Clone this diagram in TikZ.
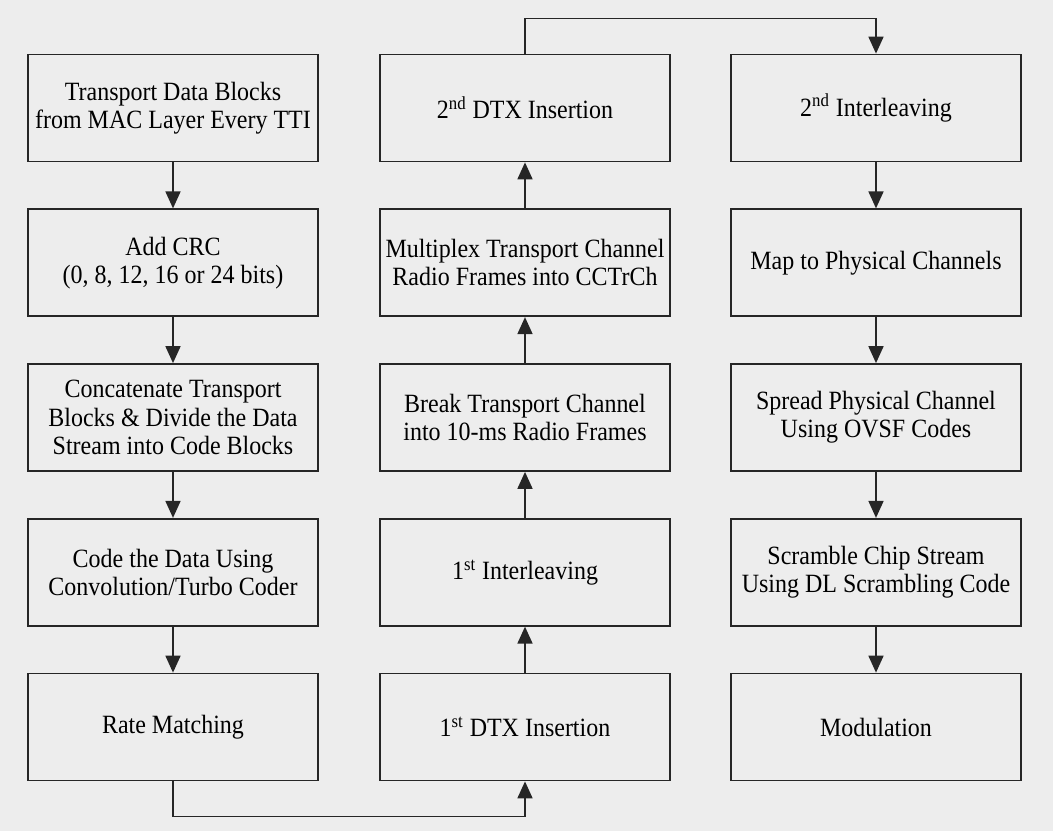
\documentclass[tikz,border=0pt]{standalone}
\usepackage{fontspec}
\setmainfont[FakeStretch=0.91]{Liberation Serif}
\usetikzlibrary{arrows.meta,positioning}

\begin{document}
\begin{tikzpicture}[
  block/.style={draw=black!85, line width=1pt, minimum width=5.8cm, minimum height=2.14cm, inner xsep=0pt, align=center, font=\fontsize{15}{16}\selectfont},
  flow/.style={draw=black!85, line width=1pt, -{Triangle[width=0.3cm,length=0.34cm]}},
  node distance=0.92cm
]
\fill[black!7] (0,0) rectangle (21.06,16.62);
\useasboundingbox (0,0) rectangle (21.06,16.62);

\node[block] (tdb) at (3.46,14.46) {Transport Data Blocks\\from MAC Layer Every TTI};
\node[block, below=of tdb] (crc) {Add CRC\\(0, 8, 12, 16 or 24 bits)};
\node[block, below=of crc] (cat) {Concatenate Transport\\Blocks \& Divide the Data\\Stream into Code Blocks};
\node[block, below=of cat] (code) {Code the Data Using\\Convolution/Turbo Coder};
\node[block, below=of code] (rate) {Rate Matching};

\node[block] (dtxb) at (10.5,14.46) {2\textsuperscript{nd} DTX Insertion};
\node[block, below=of dtxb] (mux) {Multiplex Transport Channel\\Radio Frames into CCTrCh};
\node[block, below=of mux] (brk) {Break Transport Channel\\into 10-ms Radio Frames};
\node[block, below=of brk] (ilva) {1\textsuperscript{st} Interleaving};
\node[block, below=of ilva] (dtxa) {1\textsuperscript{st} DTX Insertion};

\node[block] (ilvb) at (17.52,14.46) {2\textsuperscript{nd} Interleaving};
\node[block, below=of ilvb] (map) {Map to Physical Channels};
\node[block, below=of map] (spr) {Spread Physical Channel\\Using OVSF Codes};
\node[block, below=of spr] (scr) {Scramble Chip Stream\\Using DL Scrambling Code};
\node[block, below=of scr] (mod) {Modulation};

\draw[flow] (tdb) -- (crc);
\draw[flow] (crc) -- (cat);
\draw[flow] (cat) -- (code);
\draw[flow] (code) -- (rate);
\draw[flow] (rate.south) -- ++(0,-0.7) -| (dtxa.south);
\draw[flow] (dtxa) -- (ilva);
\draw[flow] (ilva) -- (brk);
\draw[flow] (brk) -- (mux);
\draw[flow] (mux) -- (dtxb);
\draw[flow] (dtxb.north) -- ++(0,0.7) -| (ilvb.north);
\draw[flow] (ilvb) -- (map);
\draw[flow] (map) -- (spr);
\draw[flow] (spr) -- (scr);
\draw[flow] (scr) -- (mod);
\end{tikzpicture}
\end{document}
